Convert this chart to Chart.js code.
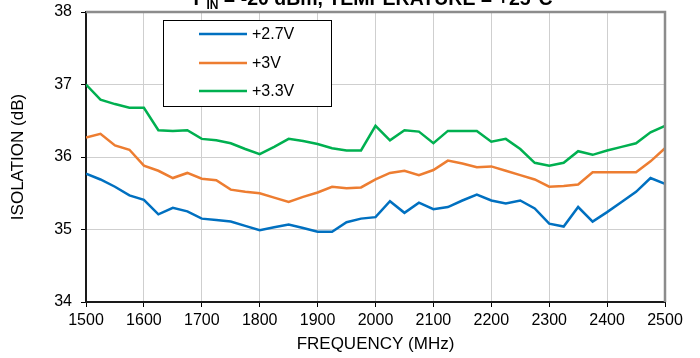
<!DOCTYPE html>
<html>
<head>
<meta charset="utf-8">
<script src="https://cdn.jsdelivr.net/npm/chart.js@4"></script>
<style>
  html, body { margin: 0; padding: 0; background: #fff; }
  #c { display: block; }
</style>
</head>
<body>
<canvas id="c" width="700" height="358"></canvas>
<script>
const frequencies = [1500,1525,1550,1575,1600,1625,1650,1675,1700,1725,1750,1775,1800,1825,1850,1875,1900,1925,1950,1975,
  2000,2025,2050,2075,2100,2125,2150,2175,2200,2225,2250,2275,2300,2325,2350,2375,2400,2425,2450,2475,2500];

const iso27 = [35.77,35.69,35.59,35.47,35.41,35.21,35.30,35.25,35.15,35.13,35.11,35.05,34.99,35.03,35.07,35.02,34.97,34.97,35.10,35.15,
  35.17,35.39,35.23,35.37,35.28,35.31,35.40,35.48,35.40,35.36,35.40,35.29,35.08,35.04,35.31,35.11,35.24,35.38,35.52,35.71,35.63];

const iso30 = [36.27,36.32,36.16,36.10,35.88,35.81,35.71,35.78,35.70,35.68,35.55,35.52,35.50,35.44,35.38,35.45,35.51,35.59,35.57,35.58,
  35.69,35.78,35.81,35.75,35.82,35.95,35.91,35.86,35.87,35.81,35.75,35.69,35.59,35.60,35.62,35.79,35.79,35.79,35.79,35.94,36.12];

const iso33 = [37.00,36.79,36.73,36.68,36.68,36.37,36.36,36.37,36.25,36.23,36.19,36.11,36.04,36.14,36.25,36.22,36.18,36.12,36.09,36.09,
  36.43,36.23,36.37,36.35,36.19,36.36,36.36,36.36,36.21,36.25,36.11,35.92,35.88,35.92,36.08,36.03,36.09,36.14,36.19,36.34,36.43];

const seriesLabels = ['+2.7V', '+3V', '+3.3V'];
const seriesColors = ['#0070C0', '#ED7D31', '#00B050'];
const xTicks = [1500,1600,1700,1800,1900,2000,2100,2200,2300,2400,2500];
const yTicks = [34,35,36,37,38];
const titleMain = 'P';
const titleSub = 'IN';
const titleRest = ' = -20 dBm, TEMPERATURE = +25°C';

const FONT = '"Liberation Sans", Arial, sans-serif';

function toPoints(vals) { return frequencies.map((f, i) => ({x: f, y: vals[i]})); }

const allSeries = [iso27, iso30, iso33];

const frameAndTitle = {
  id: 'frameAndTitle',
  afterDatasetsDraw(chart) {
    const {ctx, chartArea: a} = chart;
    ctx.save();
    ctx.strokeStyle = '#8c8c8c';
    ctx.lineWidth = 2.5;
    ctx.beginPath();
    ctx.moveTo(a.left, a.top);
    ctx.lineTo(a.right, a.top);
    ctx.lineTo(a.right, a.bottom);
    ctx.stroke();
    ctx.restore();
  },
  afterDraw(chart) {
    const ctx = chart.ctx;
    ctx.save();
    const big = 'bold 19.5px ' + FONT;
    const small = 'bold 12px ' + FONT;
    ctx.font = big; const wP = ctx.measureText(titleMain).width; const wR = ctx.measureText(titleRest).width;
    ctx.font = small; const wS = ctx.measureText(titleSub).width;
    const total = wP + wS + wR;
    let x = 373 - total / 2;
    const base = 5;
    ctx.fillStyle = '#000';
    ctx.textBaseline = 'alphabetic';
    ctx.textAlign = 'left';
    ctx.font = big; ctx.fillText(titleMain, x, base); x += wP;
    ctx.font = small; ctx.fillText(titleSub, x, base + 4); x += wS;
    ctx.font = big; ctx.fillText(titleRest, x, base);

    const bx = 163.5, by = 20.5, bw = 168, bh = 86;
    ctx.fillStyle = '#fff';
    ctx.fillRect(bx, by, bw, bh);
    ctx.strokeStyle = '#000';
    ctx.lineWidth = 1;
    ctx.strokeRect(bx, by, bw, bh);
    const rows = [34, 63, 91];
    ctx.font = '16px ' + FONT;
    ctx.textBaseline = 'middle';
    chart.data.datasets.forEach((ds, i) => {
      ctx.strokeStyle = ds.borderColor;
      ctx.lineWidth = 2.5;
      ctx.beginPath();
      ctx.moveTo(199, rows[i]);
      ctx.lineTo(247, rows[i]);
      ctx.stroke();
      ctx.fillStyle = '#000';
      ctx.fillText(ds.label, 252, rows[i] + 1);
    });
    ctx.restore();
  }
};

new Chart(document.getElementById('c'), {
  type: 'line',
  data: {
    datasets: allSeries.map((vals, i) => ({
      label: seriesLabels[i],
      data: toPoints(vals),
      borderColor: seriesColors[i],
      backgroundColor: seriesColors[i],
      borderWidth: 2.5,
      pointRadius: 0,
      tension: 0,
      fill: false
    }))
  },
  options: {
    responsive: false,
    animation: false,
    layout: { padding: { left: 0, right: 35, top: 12, bottom: 0 } },
    plugins: { legend: { display: false }, title: { display: false }, tooltip: { enabled: false } },
    scales: {
      x: {
        type: 'linear',
        min: 1500, max: 2500,
        afterBuildTicks(scale) { scale.ticks = xTicks.map(v => ({value: v})); },
        afterFit(scale) { scale.height = 56; scale.paddingLeft = 0; scale.paddingRight = 0; },
        ticks: { color: '#000', font: { family: FONT, size: 16 }, padding: 4, maxRotation: 0, autoSkip: false,
                 callback: (v) => String(v) },
        grid: { color: '#cfcfcf', lineWidth: 1, tickColor: '#000', tickLength: 5, tickWidth: 1 },
        border: { color: '#1a1a1a', width: 2 },
        title: { display: true, text: 'FREQUENCY (MHz)', color: '#000', font: { family: FONT, size: 17 }, padding: { top: 0, bottom: 3 } }
      },
      y: {
        min: 34, max: 38,
        afterBuildTicks(scale) { scale.ticks = yTicks.map(v => ({value: v})); },
        afterFit(scale) { scale.width = 86; scale.paddingTop = 0; scale.paddingBottom = 0; },
        ticks: { color: '#000', font: { family: FONT, size: 16 }, padding: 9, callback: (v) => String(v) },
        grid: { color: '#cfcfcf', lineWidth: 1, tickColor: '#000', tickLength: 5, tickWidth: 1 },
        border: { color: '#1a1a1a', width: 2 },
        title: { display: true, text: 'ISOLATION (dB)', color: '#000', font: { family: FONT, size: 17 }, padding: { top: 8, bottom: 0 } }
      }
    }
  },
  plugins: [frameAndTitle]
});
</script>
</body>
</html>
